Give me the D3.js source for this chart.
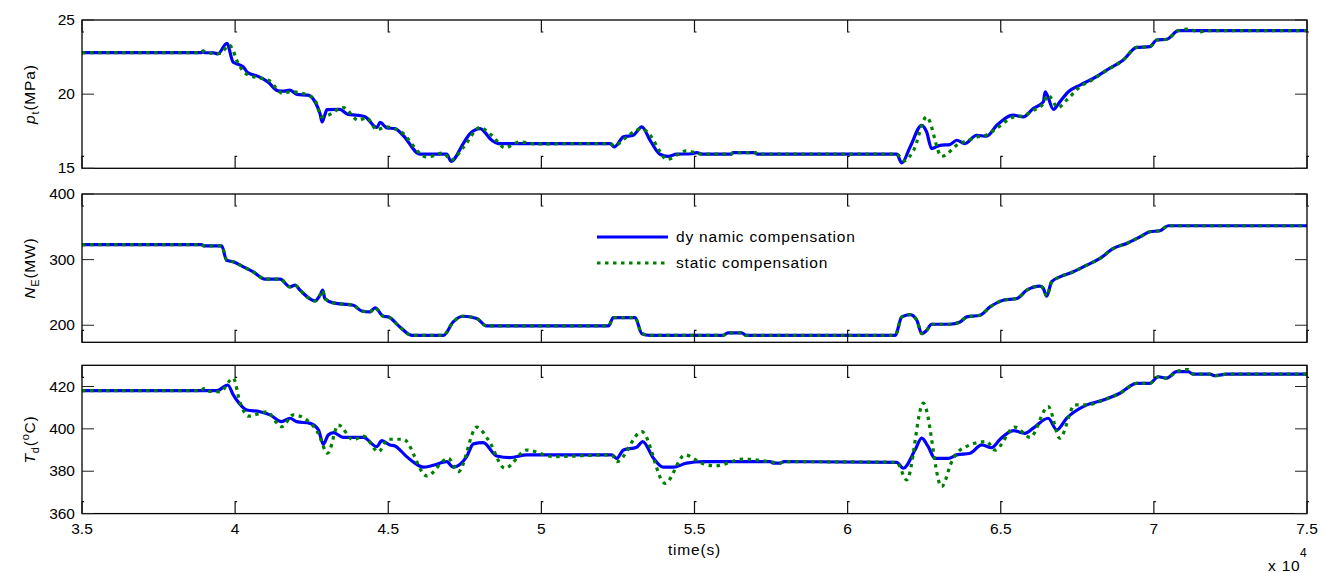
<!DOCTYPE html>
<html><head><meta charset="utf-8">
<script src="https://cdn.jsdelivr.net/npm/d3@7"></script>
<style>
body{margin:0;background:#fff}
text{font-family:"Liberation Sans",Arial,Helvetica,sans-serif;fill:#000}
</style>
</head><body>
<svg id="chart" width="1323" height="573"></svg>
<script>
// ---- data (time in units of 1e4 s) ----
const xTicks = [3.5, 4, 4.5, 5, 5.5, 6, 6.5, 7, 7.5];
const ptTicks = [15, 20, 25];
const neTicks = [200, 300, 400];
const tdTicks = [360, 380, 400, 420];
const seriesNames = ["dy namic compensation", "static compensation"];

const ptDynamic = [[3.5,22.8],[3.890,22.8],[3.895,22.9],[3.900,22.8],[3.930,22.78],[3.944,22.72],[3.973,23.43],[3.993,22.18],[4.003,22.07],[4.026,21.85],[4.042,21.44],[4.075,21.2],[4.107,20.83],[4.140,20.22],[4.160,20.2],[4.179,20.27],[4.202,19.98],[4.238,19.93],[4.261,19.48],[4.277,18.7],[4.284,18.13],[4.293,18.6],[4.300,18.95],[4.342,18.97],[4.369,18.63],[4.398,18.58],[4.424,18.47],[4.463,17.75],[4.473,18.09],[4.496,17.72],[4.522,17.68],[4.548,17.23],[4.604,15.95],[4.691,15.95],[4.705,15.47],[4.745,16.67],[4.767,17.34],[4.800,17.68],[4.838,16.89],[4.859,16.67],[5.224,16.67],[5.238,16.44],[5.268,17.12],[5.300,17.23],[5.328,17.79],[5.355,16.89],[5.387,15.95],[5.414,15.81],[5.442,15.95],[5.490,15.98],[5.507,16.06],[5.529,15.95],[5.620,15.95],[5.626,16.06],[5.698,16.06],[5.705,15.95],[6.160,15.95],[6.177,15.36],[6.204,16.44],[6.242,17.9],[6.258,17.45],[6.274,16.33],[6.302,16.55],[6.334,16.6],[6.356,16.89],[6.383,16.67],[6.421,17.23],[6.454,17.16],[6.487,17.9],[6.541,18.58],[6.574,18.47],[6.606,19.03],[6.639,19.48],[6.645,20.16],[6.672,18.97],[6.693,19.48],[6.721,20.16],[6.759,20.61],[6.802,21.06],[6.846,21.62],[6.900,22.3],[6.944,23.15],[6.987,23.2],[7.009,23.65],[7.042,23.7],[7.080,24.28],[7.5,24.28]];
const ptStatic = [[3.5,22.8],[3.890,22.8],[3.897,22.9],[3.905,22.8],[3.950,22.74],[3.982,23.3],[3.993,22.97],[4.005,22.3],[4.043,21.28],[4.070,21.13],[4.108,20.95],[4.157,20.05],[4.179,20.16],[4.239,19.93],[4.261,19.6],[4.283,18.47],[4.304,18.58],[4.353,19.1],[4.402,18.24],[4.430,18.4],[4.462,17.61],[4.495,17.79],[4.538,17.5],[4.626,15.76],[4.680,16.03],[4.705,15.55],[4.745,16.4],[4.800,17.75],[4.839,17.2],[4.881,16.39],[4.930,16.78],[4.979,16.65],[5.224,16.67],[5.240,16.5],[5.268,16.95],[5.328,17.66],[5.360,17.1],[5.385,16.2],[5.409,15.59],[5.474,16.17],[5.528,15.95],[5.620,15.95],[5.626,16.06],[5.698,16.06],[5.705,15.95],[6.160,15.95],[6.185,15.5],[6.215,16.2],[6.258,18.47],[6.307,15.81],[6.367,16.7],[6.383,16.8],[6.421,17.1],[6.454,17.25],[6.487,17.7],[6.541,18.45],[6.574,18.55],[6.606,18.9],[6.639,19.35],[6.654,19.93],[6.687,19.1],[6.715,19.6],[6.759,20.5],[6.802,21.0],[6.846,21.62],[6.900,22.3],[6.944,23.15],[6.987,23.2],[7.009,23.65],[7.042,23.7],[7.080,24.28],[7.111,24.39],[7.150,24.2],[7.180,24.28],[7.5,24.28]];

const neDynamic = [[3.5,323],[3.890,323],[3.897,321],[3.956,321],[3.972,299],[3.994,296.6],[4.027,289],[4.059,281.4],[4.098,270.2],[4.147,270.2],[4.179,258.5],[4.196,261],[4.212,253.4],[4.261,237.1],[4.277,245.8],[4.286,253.4],[4.293,240.7],[4.321,234],[4.386,230.5],[4.413,221.8],[4.440,220.3],[4.457,226.4],[4.484,213.7],[4.500,212.7],[4.538,197.4],[4.577,184.7],[4.680,184.7],[4.712,205],[4.743,213.7],[4.789,210.2],[4.821,198.9],[5.219,198.9],[5.235,211.7],[5.306,211.7],[5.328,187.2],[5.355,184.7],[5.594,184.7],[5.609,188.3],[5.654,188.3],[5.668,184.7],[6.155,184.7],[6.177,212.7],[6.204,216.3],[6.226,207.6],[6.242,187.2],[6.258,192.3],[6.274,201.5],[6.334,201.5],[6.367,205],[6.389,212.7],[6.432,215.3],[6.465,227.9],[6.508,238.1],[6.552,240.7],[6.585,253.4],[6.628,259.5],[6.639,256],[6.650,244.2],[6.666,266.1],[6.693,273.7],[6.737,281.4],[6.781,291.6],[6.824,301.8],[6.868,317.1],[6.911,324.7],[6.955,334.8],[6.987,342.5],[7.020,344],[7.047,351.6],[7.5,351.6]];
const neStatic = [[3.5,323],[3.890,323],[3.897,321],[3.956,321],[3.973,299],[3.995,296.6],[4.027,289],[4.059,281.4],[4.098,270.2],[4.147,270.2],[4.179,258.5],[4.196,261],[4.212,253.4],[4.261,237.1],[4.277,245.8],[4.286,253.4],[4.293,240.7],[4.321,234],[4.386,230.5],[4.413,221.8],[4.440,220.3],[4.457,226.4],[4.484,213.7],[4.500,212.7],[4.538,197.4],[4.577,184.7],[4.680,184.7],[4.712,205],[4.743,213.7],[4.789,210.2],[4.821,198.9],[5.219,198.9],[5.235,211.7],[5.306,211.7],[5.328,187.2],[5.355,184.7],[5.594,184.7],[5.609,188.3],[5.654,188.3],[5.668,184.7],[6.155,184.7],[6.177,212.7],[6.204,216.3],[6.226,207.6],[6.242,187.2],[6.258,192.3],[6.274,201.5],[6.334,201.5],[6.367,205],[6.389,212.7],[6.432,215.3],[6.465,227.9],[6.508,238.1],[6.552,240.7],[6.585,253.4],[6.628,259.5],[6.639,256],[6.650,244.2],[6.666,266.1],[6.693,273.7],[6.737,281.4],[6.781,291.6],[6.824,301.8],[6.868,317.1],[6.911,324.7],[6.955,334.8],[6.987,342.5],[7.020,344],[7.047,351.6],[7.5,351.6]];

const tdDynamic = [[3.5,418],[3.940,418],[3.976,420.7],[3.994,416],[4.005,413.6],[4.038,408.9],[4.081,408.1],[4.114,406.6],[4.152,403.4],[4.179,405],[4.201,403.4],[4.245,402.6],[4.272,399.5],[4.288,392.7],[4.304,397.1],[4.321,398.2],[4.353,396],[4.419,396],[4.462,391.6],[4.479,394.4],[4.506,392.4],[4.522,391.9],[4.560,386.9],[4.587,383.8],[4.614,381.9],[4.647,382.8],[4.691,384.5],[4.712,381.9],[4.756,386.9],[4.778,392.9],[4.810,393.5],[4.854,387.2],[4.898,386.4],[4.952,387.7],[5.230,387.7],[5.246,386.1],[5.268,390],[5.311,391.3],[5.331,394],[5.366,386.1],[5.398,381.9],[5.431,381.9],[5.474,383.8],[5.529,384.5],[5.747,384.5],[5.757,383.8],[5.779,383.8],[5.792,384.5],[6.160,384.2],[6.182,381.4],[6.220,390],[6.242,395.6],[6.263,391.6],[6.285,386.1],[6.329,386.1],[6.356,387.7],[6.400,388.5],[6.438,392.4],[6.470,391.1],[6.498,395.1],[6.541,399.2],[6.579,397.9],[6.606,400.3],[6.655,405],[6.683,399.5],[6.715,405],[6.781,411.3],[6.835,413.6],[6.889,416.8],[6.944,421.5],[6.987,421.5],[7.014,424.6],[7.042,423.9],[7.074,427],[7.112,427],[7.129,425.8],[7.183,425.8],[7.200,425.1],[7.238,425.8],[7.5,425.8]];
const tdStatic = [[3.5,418],[3.890,418],[3.897,419],[3.905,418],[3.950,417.5],[3.994,423.9],[4.015,413],[4.043,406],[4.103,408],[4.152,401],[4.190,406.6],[4.234,404.2],[4.271,398],[4.302,388.5],[4.337,401.8],[4.386,394.8],[4.419,396.6],[4.468,389.2],[4.500,395.1],[4.549,395.1],[4.626,377.8],[4.696,386.1],[4.729,379.8],[4.789,400.8],[4.827,394.8],[4.881,381.4],[4.952,390],[5.039,386.9],[5.230,387.7],[5.246,384.5],[5.328,398.7],[5.404,374.3],[5.469,387.7],[5.524,383.8],[5.567,382.5],[5.659,385.7],[5.747,384.5],[5.779,383.8],[5.792,384.5],[6.160,384.2],[6.193,375.9],[6.247,412.1],[6.307,372.7],[6.340,384.5],[6.367,390],[6.454,394],[6.481,390],[6.546,400.8],[6.596,396],[6.655,410.5],[6.693,395.6],[6.742,411.3],[6.781,411.3],[6.835,413.6],[6.889,416.8],[6.944,421.5],[6.987,421.5],[7.014,424.6],[7.042,423.9],[7.074,427],[7.112,428],[7.129,425.8],[7.183,425.8],[7.200,425.1],[7.238,425.8],[7.5,425.8]];

// ---- layout ----
const svg = d3.select("#chart");
const left = 82, right = 1307, ph = 148.3;
const x = d3.scaleLinear().domain([3.5, 7.5]).range([left, right]);
const blue = "#0000ff", green = "#008000";
const tickLen = 12;

const panels = [
  {top: 20, domain: [15, 25], ticks: ptTicks, dyn: ptDynamic, sta: ptStatic, lab: ["p", "t", "(MPa)", null]},
  {top: 194, domain: [174, 400], ticks: neTicks, dyn: neDynamic, sta: neStatic, lab: ["N", "E", "(MW)", null]},
  {top: 365.3, domain: [360, 430], ticks: tdTicks, dyn: tdDynamic, sta: tdStatic, lab: ["T", "d", "(", "C)"]}
];

panels.forEach((p, i) => {
  const y = d3.scaleLinear().domain(p.domain).range([p.top + ph, p.top]);
  const g = svg.append("g");
  const bottom = p.top + ph;

  // series
  const line = d3.line().curve(d3.curveMonotoneX).x(d => x(d[0])).y(d => y(d[1]));
  g.append("path").datum(p.dyn).attr("d", line)
    .attr("fill", "none").attr("stroke", blue).attr("stroke-width", 3.2).attr("stroke-linejoin", "round");
  g.append("path").datum(p.sta).attr("d", line)
    .attr("fill", "none").attr("stroke", green).attr("stroke-width", 3.2).attr("stroke-dasharray", "3.5,4.5");

  // frame
  g.append("rect").attr("x", left).attr("y", p.top).attr("width", right - left).attr("height", ph)
    .attr("fill", "none").attr("stroke", "#000").attr("stroke-width", 1.3);

  // x ticks (inward at top and bottom)
  xTicks.forEach(t => {
    const xx = x(t);
    g.append("path").attr("d", `M${xx},${p.top}V${p.top + tickLen}h2`)
      .attr("fill", "none").attr("stroke", "#111").attr("stroke-width", 1.2);
    g.append("path").attr("d", `M${xx},${bottom}V${bottom - tickLen}h2`)
      .attr("fill", "none").attr("stroke", "#111").attr("stroke-width", 1.2);
  });

  // y ticks (inward left and right) and labels
  p.ticks.forEach(v => {
    const yy = y(v);
    g.append("line").attr("x1", left).attr("x2", left + tickLen).attr("y1", yy).attr("y2", yy)
      .attr("stroke", "#222").attr("stroke-width", 1);
    g.append("line").attr("x1", right).attr("x2", right - tickLen).attr("y1", yy).attr("y2", yy)
      .attr("stroke", "#222").attr("stroke-width", 1);
    g.append("text").attr("x", 75).attr("y", yy).attr("dy", "0.33em")
      .attr("text-anchor", "end").attr("font-size", 15.5).text(v);
  });

  // y label
  const cy = p.top + ph / 2;
  const lt = g.append("text").attr("transform", `translate(35,${cy}) rotate(-90)`)
    .attr("text-anchor", "middle").attr("font-size", 15.5).attr("letter-spacing", 0.8);
  lt.append("tspan").attr("font-style", "italic").text(p.lab[0]);
  lt.append("tspan").attr("font-size", 11).attr("dy", 4).text(p.lab[1]);
  lt.append("tspan").attr("dy", -4).text(p.lab[2]);
  if (p.lab[3]) {
    lt.append("tspan").attr("font-size", 11).attr("dy", -6).text("o");
    lt.append("tspan").attr("dy", 6).text(p.lab[3]);
  }

  // x tick labels on bottom panel
  if (i === panels.length - 1) {
    xTicks.forEach(t => {
      g.append("text").attr("x", x(t)).attr("y", bottom + 20.5).attr("text-anchor", "middle")
        .attr("font-size", 15.5).text(d3.format("~g")(t));
    });
    g.append("text").attr("x", (left + right) / 2).attr("y", 555).attr("text-anchor", "middle")
      .attr("font-size", 15.5).attr("letter-spacing", 0.8).text("time(s)");
    g.append("text").attr("x", 1268).attr("y", 571).attr("font-size", 15.5).attr("letter-spacing", 0.8).text("x 10");
    g.append("text").attr("x", 1300).attr("y", 557).attr("font-size", 12).text("4");
  }
});

// legend
const lg = svg.append("g");
const legendY = [237, 263];
[[blue, null], [green, "3.5,4.5"]].forEach((s, k) => {
  const l = lg.append("line").attr("x1", 597).attr("x2", 668).attr("y1", legendY[k]).attr("y2", legendY[k])
    .attr("stroke", s[0]).attr("stroke-width", 3.2);
  if (s[1]) l.attr("stroke-dasharray", s[1]);
  lg.append("text").attr("x", 676).attr("y", legendY[k]).attr("dy", "0.35em")
    .attr("font-size", 15.5).attr("letter-spacing", 0.8).text(seriesNames[k]);
});
</script>
</body></html>
